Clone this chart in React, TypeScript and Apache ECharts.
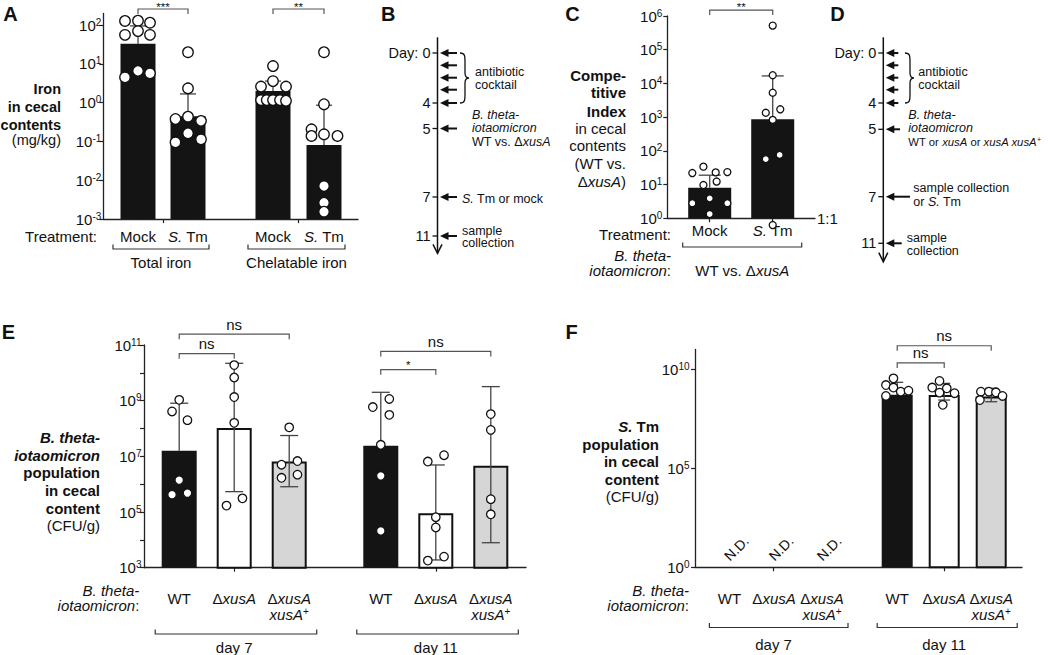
import React, { useEffect, useRef } from 'react';
import * as echarts from 'echarts';

const FONT = "'Liberation Sans', Arial, Helvetica, sans-serif";
const INK = '#111111';
const BLACK_BAR = '#141414';
const WHITE_BAR = '#ffffff';
const GREY_BAR = '#d6d6d6';

// ---------------- Panel A ----------------
const catsA = ['{n|Mock}', '{i|S.}{n| Tm}', '{n|Mock}', '{i|S.}{n| Tm}'];
const groupNamesA = ['Total iron', 'Chelatable iron'];
const groupMembersA = [[0, 1], [2, 3]];
const posA = [0, 1, 2.7, 3.72];
const groupTickA = [0.5, 3.21];
const meanA = [33, 0.45, 2.0, 0.081];
const errHiA = [95, 1.68, 3.6, 0.86];
const errLoA = [null, null, null, null];
const fillA = [BLACK_BAR, BLACK_BAR, BLACK_BAR, BLACK_BAR];
const ptsA = [
  [[-0.26, 128], [0, 130], [0.24, 115], [-0.26, 56], [0, 70], [0.24, 56], [-0.26, 4.5], [0, 6.6], [0.24, 5.7]],
  [[0, 20], [0, 2.35], [-0.25, 0.38], [0, 0.435], [0.26, 0.34], [-0.25, 0.095], [0, 0.163], [0.26, 0.114]],
  [[0, 8.8], [0, 3.6], [-0.24, 2.6], [0.26, 2.6], [-0.24, 1.17], [-0.125, 1.17], [0, 1.17], [0.14, 1.17], [0.26, 1.12]],
  [[0, 20], [0, 0.91], [-0.25, 0.206], [-0.25, 0.139], [0, 0.153], [0.27, 0.139], [0, 0.0071], [0, 0.00265], [0, 0.00155]],
];
const sigA = [[0, 1, '***', 260], [2, 3, '**', 260]];
const yTicksA = [0.001, 0.01, 0.1, 1, 10, 100];

// ---------------- Panel C ----------------
const catsC = ['{n|Mock}', '{i|S.}{n| Tm}'];
const posC = [0, 1];
const groupTickC = [0, 1];
const meanC = [8.1, 870];
const errHiC = [19, 16700];
const errLoC = [null, null];
const fillC = [BLACK_BAR, BLACK_BAR];
const ptsC = [
  [[-0.276, 22], [-0.1, 34], [0.095, 23], [0.28, 23.5], [-0.1, 9.7], [0.11, 12.3], [-0.276, 2.8], [0, 3.9], [0.28, 2.8], [0, 1.34]],
  [[0, 520000], [0, 17500], [0, 5300], [-0.11, 1350], [0.12, 1710], [0, 830], [-0.11, 57], [0.11, 76], [0, 0.63]],
];
const sigC = [[0, 1, '**', 1.5e6]];
const yTicksC = [1, 10, 100, 1e3, 1e4, 1e5, 1e6];

// ---------------- Panel E ----------------
const strainLabels = ['{n|WT}', '{n|Δ}{i|xusA}', '{n|Δ}{i|xusA}\n{i|xusA}{s|+}'];
const catsE = [...strainLabels, ...strainLabels];
const dayNames = ['day 7', 'day 11'];
const groupMembersE = [[0, 2], [3, 5]];
const posE = [0, 1, 2, 3.665, 4.665, 5.665];
const groupTickE = [1, 4.665];
const fillE = [BLACK_BAR, WHITE_BAR, GREY_BAR, BLACK_BAR, WHITE_BAR, GREY_BAR];
const meanE = [1.6e7, 1.05e8, 6.5e6, 2.4e7, 9.1e4, 4.6e6];
const errHiE = [8.1e8, 2.2e10, 5.6e7, 2.0e9, 4.9e6, 3.2e9];
const errLoE = [null, 5.4e5, 8.1e5, null, 1.9e3, 7.9e3];
const ptsE = [
  [[0, 1.07e9], [-0.13, 4.1e8], [0.15, 2.0e8], [0, 1.4e6], [-0.13, 4.2e5], [0.15, 4.8e5]],
  [[0, 1.9e10], [0, 6.8e9], [0, 1.35e9], [0, 1.6e8], [-0.14, 1.7e5], [0.15, 3.1e5]],
  [[0, 1.1e8], [-0.14, 5.0e6], [0.15, 6.8e6], [-0.14, 1.7e6], [0.15, 2.2e6]],
  [[-0.145, 5.9e8], [0.155, 1.15e9], [0.155, 3.1e8], [0, 2.6e7], [0, 2.0e6], [0, 2.1e4]],
  [[-0.145, 6.5e6], [0.15, 1.1e7], [0, 6.5e4], [0, 2.8e4], [-0.145, 1.8e3], [0.15, 2.5e3]],
  [[0, 3.3e8], [0, 8.9e7], [0, 2.9e5], [0, 8.3e4]],
];
const sigE = [[0, 1, 'ns', 4.9e10], [0, 2, 'ns', 2.45e11], [3, 4, '*', 1.3e10], [3, 5, 'ns', 5.9e10]];
const yTicksE = [1e3, 1e4, 1e5, 1e6, 1e7, 1e8, 1e9, 1e10, 1e11];
const yLabelsE = [1e3, 1e5, 1e7, 1e9, 1e11];

// ---------------- Panel F ----------------
const catsF = [...strainLabels, ...strainLabels];
const groupMembersF = [[0, 2], [3, 5]];
const posF = [-3.57, -2.62, -1.6, 0, 1, 2];
const groupTickF = [-2.63, 1];
const fillF = [BLACK_BAR, WHITE_BAR, GREY_BAR, BLACK_BAR, WHITE_BAR, GREY_BAR];
const meanF = [null, null, null, 5.2e8, 5.0e8, 4.2e8];
const errHiF = [null, null, null, 2.2e9, 1.95e9, 1.1e9];
const errLoF = [null, null, null, null, 2.8e8, 2.3e8];
const notDetectedF = [true, true, true, false, false, false];
const ND_LEVEL = 9;
const ptsF = [
  [], [], [],
  [[-0.08, 3.5e9], [-0.24, 1.6e9], [-0.08, 1.2e9], [0.075, 7.4e8], [0.24, 8.3e8], [-0.24, 4.5e8]],
  [[-0.1, 2.6e9], [-0.255, 1.2e9], [0.055, 1.1e9], [-0.1, 6.6e8], [0.22, 6.2e8], [-0.03, 1.6e8]],
  [[-0.22, 7.4e8], [-0.05, 7.4e8], [0.1, 6.9e8], [0.24, 4.5e8], [-0.24, 2.8e8]],
];
const sigF = [[3, 4, 'ns', 2.1e10], [3, 5, 'ns', 1.55e11]];
const yTicksF = [1, 1e5, 1e10];

// ---------------- helpers ----------------
const axisRich: any = {
  n: { fontSize: 15, fontFamily: FONT, color: INK, lineHeight: 16 },
  i: { fontSize: 15, fontFamily: FONT, color: INK, fontStyle: 'italic', lineHeight: 16 },
  b: { fontSize: 15, fontFamily: FONT, color: INK, lineHeight: 16 },
  s: { fontSize: 10, fontFamily: FONT, color: INK, verticalAlign: 'top', lineHeight: 10 },
};

const gRich = (fs: number): any => {
  const base = { fontSize: fs, fontFamily: FONT, fill: INK, color: INK };
  return {
    n: { ...base },
    i: { ...base, fontStyle: 'italic' },
    b: { ...base, fontWeight: 'bold' },
    bi: { ...base, fontWeight: 'bold', fontStyle: 'italic' },
    s: { fontSize: Math.round(fs * 0.66), fontFamily: FONT, fill: INK, color: INK, verticalAlign: 'top' },
  };
};

const expFmt = (v: number) => {
  const e = Math.round(Math.log10(v));
  return '{b|10}{s|' + (e < 0 ? '-' + -e : String(e)) + '}';
};

const lineStyle = { color: '#222', width: 1.3 };

function yLog(gi: number, min: number, max: number, ticks: number[], labels: number[], margin: number) {
  return {
    type: 'log', logBase: 10, gridIndex: gi, min, max,
    axisLine: { show: true, onZero: false, lineStyle },
    axisTick: { show: true, length: 4, customValues: ticks, lineStyle: { color: '#222', width: 1.2 } },
    axisLabel: { show: true, customValues: labels, margin, formatter: expFmt, rich: axisRich },
    splitLine: { show: false }, minorTick: { show: false }, minorSplitLine: { show: false },
  };
}

function xVal(gi: number, min: number, max: number, pos: number[], cats: string[], ticks: number[], margin: number) {
  return {
    type: 'value', gridIndex: gi, min, max,
    axisLine: { show: true, onZero: false, lineStyle },
    axisTick: { show: true, length: 4, customValues: ticks, lineStyle: { color: '#222', width: 1.2 } },
    axisLabel: {
      show: true, customValues: pos, margin, rich: axisRich,
      formatter: (v: number) => {
        const k = pos.findIndex((p) => Math.abs(p - v) < 1e-6);
        return k >= 0 ? cats[k] : '';
      },
    },
    splitLine: { show: false },
  };
}

function barSeries(gi: number, pos: number[], mean: any[], fills: string[], w: number, base: number) {
  const data: any[] = [];
  pos.forEach((p, i) => { if (mean[i] != null) data.push([p, mean[i], i]); });
  return {
    type: 'custom', xAxisIndex: gi, yAxisIndex: gi, silent: true, z: 2, data,
    renderItem: (params: any, api: any) => {
      const i = api.value(2);
      const top = api.coord([api.value(0), api.value(1)]);
      const bot = api.coord([api.value(0), base]);
      const dark = fills[i] === BLACK_BAR;
      const lw = dark ? 0 : 2;
      return {
        type: 'rect',
        shape: { x: top[0] - w / 2 + lw / 2, y: top[1] + lw / 2, width: w - lw, height: bot[1] - top[1] - lw / 2 },
        style: { fill: fills[i], stroke: dark ? null : INK, lineWidth: lw },
      };
    },
  };
}

function errSeries(gi: number, pos: number[], mean: any[], hi: any[], lo: any[], cap: number) {
  const data: any[] = [];
  pos.forEach((p, i) => { if (hi[i] != null) data.push([p, hi[i], i]); });
  return {
    type: 'custom', xAxisIndex: gi, yAxisIndex: gi, silent: true, z: 3, data,
    renderItem: (params: any, api: any) => {
      const i = api.value(2);
      const x = api.value(0);
      const h = api.coord([x, hi[i]]);
      const m = api.coord([x, mean[i]]);
      const l = lo[i] != null ? api.coord([x, lo[i]]) : m;
      const st = { stroke: '#444', lineWidth: 1.3 };
      const children: any[] = [
        { type: 'line', shape: { x1: h[0], y1: h[1], x2: l[0], y2: l[1] }, style: st },
        { type: 'line', shape: { x1: h[0] - cap, y1: h[1], x2: h[0] + cap, y2: h[1] }, style: st },
      ];
      if (lo[i] != null) children.push({ type: 'line', shape: { x1: l[0] - cap, y1: l[1], x2: l[0] + cap, y2: l[1] }, style: st });
      return { type: 'group', children };
    },
  };
}

function ptSeries(gi: number, pos: number[], pts: number[][][], size: number) {
  const data: any[] = [];
  pts.forEach((arr, i) => arr.forEach(([dx, v]) => data.push([pos[i] + dx, v])));
  return {
    type: 'scatter', xAxisIndex: gi, yAxisIndex: gi, silent: true, z: 4, clip: false,
    symbol: 'circle', symbolSize: size, data,
    itemStyle: { color: '#ffffff', borderColor: INK, borderWidth: 1.3, opacity: 1 },
  };
}

function sigSeries(gi: number, pos: number[], sig: any[]) {
  return {
    type: 'custom', xAxisIndex: gi, yAxisIndex: gi, silent: true, z: 5,
    data: sig.map((s, k) => [pos[s[0]], s[3], k]),
    renderItem: (params: any, api: any) => {
      const s = sig[api.value(2)];
      const a = api.coord([pos[s[0]], s[3]]);
      const b = api.coord([pos[s[1]], s[3]]);
      const y = a[1];
      const star = s[2].indexOf('*') >= 0;
      const ty = star ? Math.max(y - 4.5, 6.5) : y - 10;
      return {
        type: 'group',
        children: [
          { type: 'polyline', shape: { points: [[a[0], y + 5], [a[0], y], [b[0], y], [b[0], y + 5]] }, style: { stroke: '#555', lineWidth: 1.2, fill: null } },
          {
            type: 'text',
            style: {
              text: s[2], x: (a[0] + b[0]) / 2, y: ty,
              align: 'center', verticalAlign: 'middle', textAlign: 'center', textVerticalAlign: 'middle',
              fontSize: star ? 11.5 : 15, fontFamily: FONT, fill: INK,
            },
          },
        ],
      };
    },
  };
}

function ndSeries(gi: number, pos: number[], flags: boolean[], level: number) {
  const data: any[] = [];
  pos.forEach((p, i) => { if (flags[i]) data.push([p, level]); });
  return {
    type: 'custom', xAxisIndex: gi, yAxisIndex: gi, silent: true, z: 5, data,
    renderItem: (params: any, api: any) => {
      const p = api.coord([api.value(0), api.value(1)]);
      return {
        type: 'text', x: p[0] + 7, y: p[1], rotation: Math.PI / 4,
        style: {
          text: 'N.D.', align: 'center', verticalAlign: 'middle', textAlign: 'center', textVerticalAlign: 'middle',
          fontSize: 14, fontFamily: FONT, fill: INK,
        },
      };
    },
  };
}

function buildOption(): any {
  return {
    animation: false,
    backgroundColor: '#ffffff',
    textStyle: { fontFamily: FONT },
    grid: [
      { left: 103.3, top: 13.4, width: 254.7, height: 205.7, containLabel: false, outerBoundsMode: 'none' },
      { left: 667.3, top: 16, width: 147.7, height: 202.3, containLabel: false, outerBoundsMode: 'none' },
      { left: 144, top: 345, width: 382, height: 222.7, containLabel: false, outerBoundsMode: 'none' },
      { left: 695, top: 349.5, width: 327, height: 217.8, containLabel: false, outerBoundsMode: 'none' },
    ],
    xAxis: [
      xVal(0, -0.694, 4.4, posA, catsA, groupTickA, 9),
      xVal(1, -0.673, 1.671, posC, catsC, groupTickC, 4),
      xVal(2, -0.64, 6.305, posE, catsE, groupTickE, 23),
      xVal(3, -4.302, 2.655, posF, catsF, groupTickF, 23),
    ],
    yAxis: [
      yLog(0, 0.000999, 200, yTicksA, yTicksA, 2),
      yLog(1, 0.9999, 1.0001e6, yTicksC, yTicksC, 5),
      yLog(2, 999.9, 1.0001e11, yTicksE, yLabelsE, 2.5),
      yLog(3, 0.9999, 1.0001e11, yTicksF, yTicksF, 5.5),
    ],
    series: [
      barSeries(0, posA, meanA, fillA, 35, 0.001),
      errSeries(0, posA, meanA, errHiA, errLoA, 8),
      ptSeries(0, posA, ptsA, 10.5),
      sigSeries(0, posA, sigA),

      barSeries(1, posC, meanC, fillC, 43, 1),
      errSeries(1, posC, meanC, errHiC, errLoC, 11),
      ptSeries(1, posC, ptsC, 7),
      sigSeries(1, posC, sigC),

      barSeries(2, posE, meanE, fillE, 35, 1000),
      errSeries(2, posE, meanE, errHiE, errLoE, 9),
      ptSeries(2, posE, ptsE, 8.5),
      sigSeries(2, posE, sigE),

      barSeries(3, posF, meanF, fillF, 31, 1),
      errSeries(3, posF, meanF, errHiF, errLoF, 6),
      ptSeries(3, posF, ptsF, 8.5),
      sigSeries(3, posF, sigF),
      ndSeries(3, posF, notDetectedF, ND_LEVEL),
    ],
  };
}

const BRACE_D = 'M0,0 C5,0 5,3 5,9 L5,20 C5,23 6,25 9,25 C6,25 5,27 5,30 L5,41 C5,47 5,50 0,50';
echarts.graphic.registerShape('brace', echarts.graphic.extendPath(BRACE_D, {}));

function buildGraphic(chart: any): any[] {
  const g: any[] = [];
  const text = (x: number, y: number, str: string, align = 'left', fs = 15) => {
    g.push({
      type: 'text', x, y, silent: true,
      style: {
        text: str, align, verticalAlign: 'middle', textAlign: align, textVerticalAlign: 'middle',
        rich: gRich(fs), fontSize: fs, fontFamily: FONT, fill: INK,
      },
    });
  };
  const line = (x1: number, y1: number, x2: number, y2: number, lw = 1.2, color = INK) => {
    g.push({ type: 'line', silent: true, shape: { x1, y1, x2, y2 }, style: { stroke: color, lineWidth: lw } });
  };
  const poly = (points: number[][], lw = 1.2, color = INK) => {
    g.push({ type: 'polyline', silent: true, shape: { points }, style: { stroke: color, lineWidth: lw, fill: null } });
  };
  const arrow = (tipX: number, y: number, tailX: number) => {
    g.push({ type: 'polygon', silent: true, shape: { points: [[tipX, y], [tipX + 8.5, y - 4], [tipX + 8.5, y + 4]] }, style: { fill: INK } });
    line(tipX + 6, y, tailX, y, 2);
  };
  const px = (gi: number, x: number) => chart.convertToPixel({ gridIndex: gi }, [x, 1])[0];

  // panel letters
  const letter = (x: number, y: number, s: string) => g.push({
    type: 'text', x, y, silent: true,
    style: { text: s, align: 'center', verticalAlign: 'middle', textAlign: 'center', textVerticalAlign: 'middle', fontSize: 20, fontWeight: 'bold', fontFamily: FONT, fill: INK },
  });
  letter(10.5, 13.5, 'A'); letter(388.3, 13.5, 'B'); letter(572.5, 13.5, 'C');
  letter(837.5, 13.5, 'D'); letter(8.5, 332, 'E'); letter(571.5, 332, 'F');

  // group brackets below axes
  const groupBracket = (gi: number, pos: number[], members: number[][], names: string[], padL: number, padR: number,
    y: number, labelY: number, labelAt: string, centers?: number[]) => {
    members.forEach((m, k) => {
      const x1 = px(gi, pos[m[0]]) + padL;
      const x2 = px(gi, pos[m[1]]) + padR;
      poly([[x1, y - 4.5], [x1, y], [x2, y], [x2, y - 4.5]], 1.2, '#333');
      const cx = labelAt === 'bracket' || !centers ? (x1 + x2) / 2 : px(gi, centers[k]);
      text(cx, labelY, '{n|' + names[k] + '}', 'center');
    });
  };

  // ---- Panel A text ----
  [['{b|Iron}', 89], ['{b|in cecal}', 107], ['{b|contents}', 125], ['{n|(mg/kg)}', 140]].forEach(([s, y]) => text(61, y as number, s as string, 'right', 14.5));
  text(97, 236, '{n|Treatment:}', 'right');
  groupBracket(0, posA, groupMembersA, groupNamesA, -25, 21, 249, 262.5, 'bracket');

  // ---- timelines ----
  const timeline = (x0: number, top: number, tip: number, days: any[], arrows: any[], braceX: number, texts: any[]) => {
    line(x0, top, x0, tip, 1.5);
    poly([[x0 - 4.5, tip - 9], [x0, tip], [x0 + 4.5, tip - 9]], 1.5);
    days.forEach(([s, y]) => { line(x0 - 5, y, x0, y, 1.3); text(x0 - 7, y, '{n|' + s + '}', 'right', 14.5); });
    arrows.forEach(([y, tail]) => arrow(x0 + 2.5, y, tail));
    g.push({ type: 'brace', x: braceX, y: 53, scaleX: 1, scaleY: 1, silent: true, style: { stroke: INK, fill: 'none', lineWidth: 1.3 } });
    texts.forEach(([s, x, y, fs]) => text(x, y, s, 'left', fs || 12.5));
  };
  timeline(437.5, 37.3, 253.3,
    [['Day: 0', 53], ['4', 103], ['5', 128.5], ['7', 197], ['11', 236]],
    [[53, 457], [65.3, 457], [77.7, 457], [89.7, 457], [103, 457], [128.5, 457], [197, 457], [236, 457]],
    460,
    [['{n|antibiotic}', 475, 71.7], ['{n|cocktail}', 475, 85], ['{i|B. theta-}', 472, 115], ['{i|iotaomicron}', 472, 128.3],
      ['{n|WT vs. Δ}{i|xusA}', 472, 141.7], ['{i|S.}{n| Tm or mock}', 462, 198.7], ['{n|sample}', 462, 231], ['{n|collection}', 462, 243]]);

  // ---- Panel C text ----
  [['{b|Compe-}', 75], ['{b|titive}', 92.7], ['{b|Index}', 111], ['{n|in cecal}', 128.3], ['{n|contents}', 145.7],
    ['{n|(WT vs.}', 163.3], ['{n|Δ}{i|xusA}{n|)}', 181.7]].forEach(([s, y]) => text(626, y as number, s as string, 'right'));
  text(671, 234, '{n|Treatment:}', 'right');
  text(671, 255, '{i|B. theta-}', 'right');
  text(671, 270, '{i|iotaomicron}{n|:}', 'right');
  text(817, 218.3, '{n|1:1}', 'left');
  {
    const x1 = px(1, posC[0]) - 27;
    const x2 = px(1, posC[1]) + 29;
    poly([[x1, 242.5], [x1, 247], [x2, 247], [x2, 242.5]], 1.2, '#333');
    text((x1 + x2) / 2, 270, '{n|WT vs. Δ}{i|xusA}', 'center');
  }

  // ---- Panel D timeline ----
  timeline(883.3, 37.3, 261.7,
    [['Day: 0', 53], ['4', 103], ['5', 129.3], ['7', 196.7], ['11', 243.3]],
    [[53, 898.3], [65.3, 898.3], [77.7, 898.3], [89.7, 898.3], [103, 898.3], [129.3, 900], [196.7, 910], [243.3, 901.7]],
    905,
    [['{n|antibiotic}', 918.3, 71.7], ['{n|cocktail}', 918.3, 85], ['{i|B. theta-}', 908.3, 115], ['{i|iotaomicron}', 908.3, 128.3],
      ['{n|WT or }{i|xusA}{n| or }{i|xusA xusA}{s|+}', 908.3, 141.7, 11.3], ['{n|sample collection}', 913.3, 188.3],
      ['{n|or }{i|S.}{n| Tm}', 913.3, 201.7], ['{n|sample}', 906.7, 238.3], ['{n|collection}', 906.7, 250.7]]);

  // ---- Panel E text ----
  [['{bi|B. theta-}', 437], ['{bi|iotaomicron}', 455], ['{b|population}', 472.5], ['{b|in cecal}', 490.5],
    ['{b|content}', 508], ['{n|(CFU/g)}', 525.5]].forEach(([s, y]) => text(100, y as number, s as string, 'right'));
  text(139.3, 590, '{i|B. theta-}', 'right');
  text(139.3, 605.5, '{i|iotaomicron}{n|:}', 'right');
  groupBracket(2, posE, groupMembersE, dayNames, -24, 27.5, 634, 647.5, 'group', groupTickE);

  // ---- Panel F text ----
  [['{bi|S.}{b| Tm}', 426.7], ['{b|population}', 444.3], ['{b|in cecal}', 461.7], ['{b|content}', 479],
    ['{n|(CFU/g)}', 496.7]].forEach(([s, y]) => text(659, y as number, s as string, 'right'));
  text(689, 590, '{i|B. theta-}', 'right');
  text(689, 605.5, '{i|iotaomicron}{n|:}', 'right');
  groupBracket(3, posF, groupMembersF, dayNames, -20, 26, 627.5, 644, 'group', groupTickF);

  return g;
}

export default function App() {
  const ref = useRef<HTMLDivElement>(null);
  useEffect(() => {
    const chart = echarts.init(ref.current as HTMLDivElement, null, { renderer: 'svg' });
    chart.setOption(buildOption());
    chart.setOption({ graphic: buildGraphic(chart) });
    return () => chart.dispose();
  }, []);
  return (
    <div
      ref={ref}
      style={{ position: 'absolute', left: 0, top: 0, width: 1050, height: 655, background: '#ffffff' }}
    />
  );
}
